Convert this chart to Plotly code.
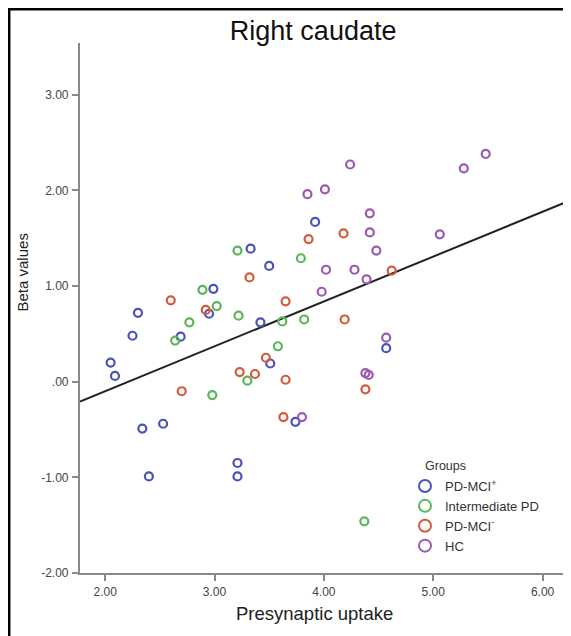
import numpy as np
import plotly.graph_objects as go

# ---- data ----
mci_pos_x = [2.05, 2.09, 2.30, 2.25, 2.34, 2.53, 2.40, 2.69, 2.99, 2.95, 3.21, 3.21, 3.33, 3.50, 3.42, 3.51, 3.74, 3.92, 4.57]
mci_pos_y = [0.20, 0.06, 0.72, 0.48, -0.49, -0.44, -0.99, 0.47, 0.97, 0.71, -0.85, -0.99, 1.39, 1.21, 0.62, 0.19, -0.42, 1.67, 0.35]

inter_x = [2.89, 3.02, 2.77, 2.64, 2.98, 3.21, 3.79, 3.22, 3.62, 3.82, 3.58, 3.30, 4.37]
inter_y = [0.96, 0.79, 0.62, 0.43, -0.14, 1.37, 1.29, 0.69, 0.63, 0.65, 0.37, 0.01, -1.46]

mci_neg_x = [2.60, 2.92, 2.70, 3.32, 3.86, 4.18, 3.65, 4.19, 3.47, 3.23, 3.37, 3.65, 3.63, 4.38, 4.62]
mci_neg_y = [0.85, 0.75, -0.10, 1.09, 1.49, 1.55, 0.84, 0.65, 0.25, 0.10, 0.08, 0.02, -0.37, -0.08, 1.16]

hc_x = [4.24, 3.85, 4.01, 4.42, 4.42, 4.48, 4.02, 4.28, 4.39, 3.98, 5.28, 5.48, 5.06, 4.38, 4.41, 3.80, 4.57]
hc_y = [2.27, 1.96, 2.01, 1.76, 1.56, 1.37, 1.17, 1.17, 1.07, 0.94, 2.23, 2.38, 1.54, 0.09, 0.07, -0.37, 0.46]

group_names = ["PD-MCI<sup>+</sup>", "Intermediate PD", "PD-MCI<sup>-</sup>", "HC"]
group_colors = ["#4b52b8", "#58b75a", "#d65a3a", "#9a5ab0"]

x_ticks = [2, 3, 4, 5, 6]
x_tick_text = ["2.00", "3.00", "4.00", "5.00", "6.00"]
y_ticks = [-2, -1, 0, 1, 2, 3]
y_tick_text = ["-2.00", "-1.00", ".00", "1.00", "2.00", "3.00"]

x_range = [1.77, 6.26]
y_range = [-2.0, 3.54]

# ---- figure ----
fig = go.Figure()
groups = [(mci_pos_x, mci_pos_y), (inter_x, inter_y), (mci_neg_x, mci_neg_y), (hc_x, hc_y)]

# least-squares fit line on all data
all_x = np.concatenate([np.array(g[0]) for g in groups])
all_y = np.concatenate([np.array(g[1]) for g in groups])
slope, intercept = np.polyfit(all_x, all_y, 1)
lx = np.array(x_range)
fig.add_trace(go.Scatter(x=lx, y=slope * lx + intercept, mode="lines",
                         line=dict(color="#222222", width=2), showlegend=False,
                         hoverinfo="skip"))

for (gx, gy), name, col in zip(groups, group_names, group_colors):
    fig.add_trace(go.Scatter(x=gx, y=gy, mode="markers", name=name,
                             marker=dict(symbol="circle-open", size=8, color=col,
                                         line=dict(width=2.2, color=col))))

axis_col = "#8c8884"
W, H = 563, 628
L, T, B = 72, 35, 63
PW, PH = W - L, H - T - B


def px_x(p):
    return (p - L) / PW


def px_y(p):
    return 1 - (p - T) / PH


fig.update_layout(
    width=W, height=H,
    margin=dict(l=L, r=0, t=T, b=B),
    paper_bgcolor="white", plot_bgcolor="white",
    font=dict(family="Liberation Sans, Arial, sans-serif", color="#222222"),
    title=dict(text="Right caudate", x=0.542, xanchor="center", y=1 - 23 / H, yanchor="middle",
               font=dict(size=27, color="#111111")),
    showlegend=True,
    legend=dict(x=px_x(397), xanchor="left", y=px_y(463), yanchor="top",
                font=dict(size=13, color="#333333"), bgcolor="rgba(0,0,0,0)",
                tracegroupgap=0, itemsizing="constant"),
)
fig.add_annotation(text="Groups", xref="paper", yref="paper",
                   x=px_x(415), y=px_y(458), xanchor="left", yanchor="middle",
                   showarrow=False, font=dict(size=12.5, color="#333333"))
fig.add_annotation(text="Presynaptic uptake", xref="paper", yref="paper",
                   x=px_x(306), y=px_y(605), xanchor="center", yanchor="middle",
                   showarrow=False, font=dict(size=18.5, color="#222222"))
fig.add_annotation(text="Beta values", xref="paper", yref="paper", textangle=-90,
                   x=px_x(13.5), y=px_y(265), xanchor="center", yanchor="middle",
                   showarrow=False, font=dict(size=15, color="#222222"))

fig.update_xaxes(range=x_range, tickvals=x_ticks, ticktext=x_tick_text,
                 showgrid=False, zeroline=False, showline=True, linecolor=axis_col,
                 linewidth=2.2, ticks="outside", ticklen=6, tickwidth=2, tickcolor=axis_col,
                 tickfont=dict(size=12, color="#444444"))
fig.update_yaxes(range=y_range, tickvals=y_ticks, ticktext=y_tick_text,
                 showgrid=False, zeroline=False, showline=True, linecolor=axis_col,
                 linewidth=2.2, ticks="outside", ticklen=6, tickwidth=2, tickcolor=axis_col,
                 tickfont=dict(size=12, color="#444444"), ticklabelstandoff=1)

# outer frame of the original panel
fig.add_shape(type="rect", xref="paper", yref="paper",
              x0=px_x(1.2), x1=1.2, y0=-0.3, y1=px_y(1.2),
              line=dict(color="black", width=2.5), fillcolor="rgba(0,0,0,0)")

fig.write_html("out.html")
